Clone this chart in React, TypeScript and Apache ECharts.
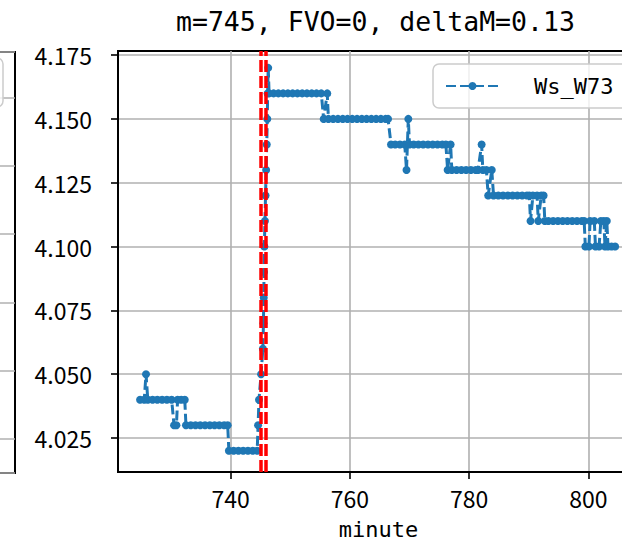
import React, { useEffect, useRef } from "react";
import * as echarts from "echarts";

// time (minute) of each sample
const minutes = [
  724.8, 725.5, 725.8, 726.1, 726.9, 727.7, 728.5, 729.3, 730.1,
  730.5, 730.9, 731.1, 731.7, 732.3, 732.5,
  733.3, 734.1, 734.9, 735.7, 736.5, 737.3, 738.1, 738.9, 739.5,
  739.7, 740.5, 741.3, 742.1, 742.9, 743.7, 744.45,
  744.6, 744.75, 745.1, 745.4, 745.5, 745.55, 745.6, 745.65, 745.75, 745.85, 745.95, 746.05, 746.15, 746.2, 746.3,
  746.45, 747.2, 748.0, 748.8, 749.6, 750.4, 751.2, 752.0, 752.8, 753.6, 754.4, 755.2,
  755.6, 756.2, 756.4,
  757.2, 758.0, 758.8, 759.6, 760.4, 761.2, 762.0, 762.8, 763.6, 764.4, 765.2, 766.0, 766.4,
  766.9, 767.6, 768.4, 769.2, 769.5, 769.8, 770.0, 770.7, 771.5, 772.3, 773.1, 773.9, 774.7, 775.5, 776.1,
  776.4, 776.9, 777.1, 777.9, 778.7, 779.5, 780.3, 781.1, 781.5, 782.1, 782.3, 782.9,
  783.2, 783.8, 784.1, 784.9, 785.7, 786.5, 787.3, 788.1, 788.9, 789.7, 790.1,
  790.3, 790.7, 791.4, 791.6, 792.1, 792.5, 792.7,
  793.3, 794.1, 794.9, 795.7, 796.5, 797.3, 798.1, 798.9, 799.3,
  799.5, 800.1, 800.3, 801.0, 801.2, 801.8, 802.1, 802.6, 802.8, 803.1, 803.3, 803.9, 804.5,
];

// Ws_W73 value of each sample
const wsW73 = [
  4.04, 4.04, 4.05, 4.04, 4.04, 4.04, 4.04, 4.04, 4.04,
  4.03, 4.03, 4.04, 4.04, 4.04, 4.03,
  4.03, 4.03, 4.03, 4.03, 4.03, 4.03, 4.03, 4.03, 4.03,
  4.02, 4.02, 4.02, 4.02, 4.02, 4.02, 4.02,
  4.03, 4.04, 4.05, 4.06, 4.07, 4.08, 4.09, 4.1, 4.11, 4.12, 4.13, 4.14, 4.15, 4.16, 4.17,
  4.16, 4.16, 4.16, 4.16, 4.16, 4.16, 4.16, 4.16, 4.16, 4.16, 4.16, 4.16,
  4.15, 4.16, 4.15,
  4.15, 4.15, 4.15, 4.15, 4.15, 4.15, 4.15, 4.15, 4.15, 4.15, 4.15, 4.15, 4.15,
  4.14, 4.14, 4.14, 4.14, 4.13, 4.15, 4.14, 4.14, 4.14, 4.14, 4.14, 4.14, 4.14, 4.14, 4.14,
  4.13, 4.14, 4.13, 4.13, 4.13, 4.13, 4.13, 4.13, 4.13, 4.14, 4.13, 4.13,
  4.12, 4.13, 4.12, 4.12, 4.12, 4.12, 4.12, 4.12, 4.12, 4.12, 4.12,
  4.11, 4.12, 4.12, 4.11, 4.12, 4.12, 4.11,
  4.11, 4.11, 4.11, 4.11, 4.11, 4.11, 4.11, 4.11, 4.11,
  4.1, 4.1, 4.11, 4.11, 4.1, 4.1, 4.11, 4.11, 4.1, 4.11, 4.1, 4.1, 4.1,
];

const xTicks = [740, 760, 780, 800];
const yTicks = [4.025, 4.05, 4.075, 4.1, 4.125, 4.15, 4.175];
const eventMinutes = [745.13, 745.9];
const titleText = "m=745, FVO=0, deltaM=0.13";
const seriesName = "Ws_W73";
const xName = "minute";

const MONO = "'DejaVu Sans Mono', monospace";
const SANS = "'Noto Sans CJK SC', sans-serif";
const BLUE = "#1f77b4";
const GRID = "#b0b0b0";

export default function App() {
  const ref = useRef<HTMLDivElement>(null);

  useEffect(() => {
    const chart = echarts.init(ref.current!, null, { renderer: "svg" });
    const data = minutes.map((m, i) => [m, wsW73[i]]);
    chart.setOption({
      animation: false,
      title: {
        text: titleText,
        left: 176,
        top: 8,
        padding: 0,
        textStyle: { fontFamily: MONO, fontSize: 26.5, fontWeight: "normal", color: "#000" },
      },
      legend: {
        data: [seriesName],
        left: 433,
        top: 64,
        padding: [11, 40, 11, 12],
        itemWidth: 53,
        itemHeight: 10,
        backgroundColor: "rgba(255,255,255,0.8)",
        borderColor: "#cccccc",
        borderWidth: 1.5,
        borderRadius: 6,
        textStyle: { fontFamily: MONO, fontSize: 22, color: "#000", padding: [0, 0, 0, 30] },
      },
      grid: [
        {
          left: 118, top: 51, width: 521, height: 421,
          outerBoundsMode: "none", containLabel: false,
          show: true, borderColor: "#000", borderWidth: 2, backgroundColor: "transparent",
        },
        {
          left: -300, top: 52, width: 315, height: 421,
          outerBoundsMode: "none", containLabel: false,
          show: true, borderColor: "#000", borderWidth: 2, backgroundColor: "transparent",
        },
      ],
      xAxis: [
        {
          type: "value",
          gridIndex: 0,
          min: 721.1,
          max: 808.5,
          minInterval: 20,
          maxInterval: 20,
          name: xName,
          nameLocation: "middle",
          nameGap: 46,
          nameTextStyle: { fontFamily: MONO, fontSize: 22, color: "#000" },
          axisLine: { show: true, onZero: false, lineStyle: { color: "#000", width: 2 } },
          axisTick: { show: true, length: 7, customValues: xTicks, lineStyle: { color: "#000", width: 1.6 } },
          axisLabel: { customValues: xTicks, margin: 14, fontFamily: SANS, fontSize: 23, color: "#000" },
          splitLine: { show: true, lineStyle: { color: GRID, width: 1.6 } },
        },
        { type: "value", gridIndex: 1, min: 0, max: 1, show: false },
      ],
      yAxis: [
        {
          type: "value",
          gridIndex: 0,
          min: 4.0117,
          max: 4.1766,
          minInterval: 0.025,
          maxInterval: 0.025,
          axisLine: { show: true, onZero: false, lineStyle: { color: "#000", width: 2 } },
          axisTick: { show: true, length: 7, customValues: yTicks, lineStyle: { color: "#000", width: 1.6 } },
          axisLabel: {
            customValues: yTicks,
            margin: 26,
            fontFamily: SANS,
            fontSize: 23,
            color: "#000",
            formatter: (v: number) => v.toFixed(3),
          },
          splitLine: { show: true, lineStyle: { color: GRID, width: 1.6 } },
        },
        {
          type: "value",
          gridIndex: 1,
          min: -0.4978,
          max: 5.666,
          minInterval: 1,
          maxInterval: 1,
          axisLine: { show: false },
          axisTick: { show: false },
          axisLabel: { show: false },
          splitLine: { show: true, lineStyle: { color: GRID, width: 1.6 } },
        },
      ],
      graphic: [
        {
          type: "rect",
          shape: { x: -60, y: 58, width: 63, height: 49, r: 6 },
          style: { fill: "rgba(255,255,255,0.8)", stroke: "#cccccc", lineWidth: 1.5 },
          z: 10,
        },
      ],
      series: [
        {
          type: "line",
          name: seriesName,
          xAxisIndex: 0,
          yAxisIndex: 0,
          data,
          symbol: "circle",
          symbolSize: 8,
          showSymbol: true,
          showAllSymbol: true,
          itemStyle: { color: BLUE },
          lineStyle: { color: BLUE, width: 3, type: [10, 4] },
          emphasis: { disabled: true },
          markLine: {
            silent: true,
            symbol: ["none", "none"],
            label: { show: false },
            lineStyle: { color: "#ff0000", width: 3.5, type: [12, 4] },
            emphasis: { disabled: true },
            data: eventMinutes.map((v) => ({ xAxis: v })),
          },
        },
      ],
    });
    return () => chart.dispose();
  }, []);

  return (
    <div
      ref={ref}
      style={{ position: "absolute", left: 0, top: 0, width: 622, height: 553, background: "#fff" }}
    />
  );
}
